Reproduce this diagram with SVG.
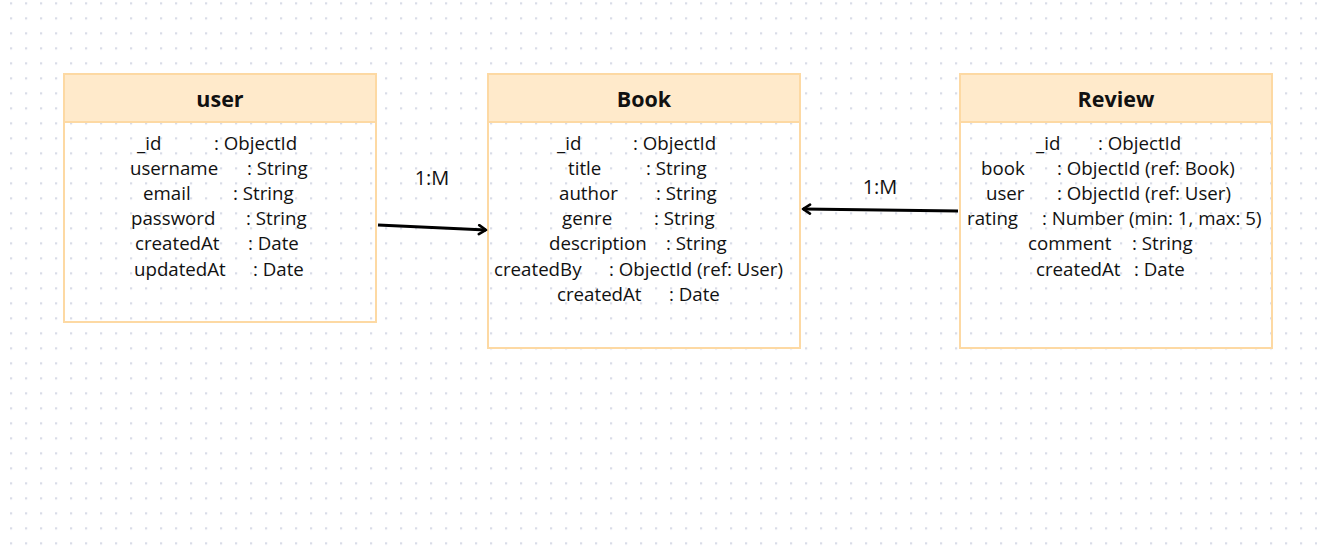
<svg xmlns="http://www.w3.org/2000/svg" width="1317" height="552" viewBox="0 0 1317 552">
  <defs>
    <pattern id="dots" x="10" y="2.3" width="15" height="15" patternUnits="userSpaceOnUse">
      <rect x="0" y="0" width="2.2" height="2.2" fill="#d9dce7"/>
    </pattern>
    <marker id="arrow" viewBox="0 0 12 12" refX="10" refY="6" markerWidth="12" markerHeight="12" markerUnits="userSpaceOnUse" orient="auto">
      <path d="M3,1.5 L10,6 L3,10.5" fill="none" stroke="#000" stroke-width="2.6" stroke-linecap="round" stroke-linejoin="round"/>
    </marker>
  </defs>
  <style>
    .box { fill: none; stroke: #fdd9a3; stroke-width: 2; }
    .head { fill: #ffeacb; stroke: #fdd9a3; stroke-width: 2; }
    .title { font-family: "Open Sans", "Noto Sans", sans-serif; font-weight: bold; font-size: 21.5px; fill: #111; text-anchor: middle; }
    .f { font-family: "Open Sans", "Noto Sans", sans-serif; font-size: 18.7px; fill: #111; }
    .lbl { font-family: "Open Sans", "Noto Sans", sans-serif; font-size: 20px; fill: #111; text-anchor: middle; }
    .conn { stroke: #000; stroke-width: 3; fill: none; }
  </style>
  <rect x="0" y="0" width="1317" height="552" fill="#ffffff"/>
  <rect x="0" y="0" width="1317" height="552" fill="url(#dots)"/>

  <g id="user">
    <rect class="head" x="64" y="74" width="312" height="48"/>
    <rect class="box" x="64" y="74" width="312" height="248"/>
    <text class="title" x="220" y="107">user</text>
    <text class="f" x="137" y="150">_id</text><text class="f" x="214" y="150">: ObjectId</text>
    <text class="f" x="130" y="175">username</text><text class="f" x="247" y="175">: String</text>
    <text class="f" x="143" y="200">email</text><text class="f" x="233" y="200">: String</text>
    <text class="f" x="131" y="225">password</text><text class="f" x="246" y="225">: String</text>
    <text class="f" x="135" y="250">createdAt</text><text class="f" x="248" y="250">: Date</text>
    <text class="f" x="134" y="276">updatedAt</text><text class="f" x="253" y="276">: Date</text>
  </g>

  <g id="book">
    <rect class="head" x="488" y="74" width="312" height="48"/>
    <rect class="box" x="488" y="74" width="312" height="274"/>
    <text class="title" x="644" y="107">Book</text>
    <text class="f" x="557" y="150">_id</text><text class="f" x="633" y="150">: ObjectId</text>
    <text class="f" x="568" y="175">title</text><text class="f" x="646" y="175">: String</text>
    <text class="f" x="559" y="200">author</text><text class="f" x="656" y="200">: String</text>
    <text class="f" x="562" y="225">genre</text><text class="f" x="654" y="225">: String</text>
    <text class="f" x="549" y="250">description</text><text class="f" x="666" y="250">: String</text>
    <text class="f" x="494" y="276">createdBy</text><text class="f" x="609" y="276">: ObjectId (ref: User)</text>
    <text class="f" x="557" y="301">createdAt</text><text class="f" x="669" y="301">: Date</text>
  </g>

  <g id="review">
    <rect class="head" x="960" y="74" width="312" height="48"/>
    <rect class="box" x="960" y="74" width="312" height="274"/>
    <text class="title" x="1116" y="107">Review</text>
    <text class="f" x="1036" y="150">_id</text><text class="f" x="1098" y="150">: ObjectId</text>
    <text class="f" x="981" y="175">book</text><text class="f" x="1057" y="175">: ObjectId (ref: Book)</text>
    <text class="f" x="986" y="200">user</text><text class="f" x="1057" y="200">: ObjectId (ref: User)</text>
    <text class="f" x="967" y="225">rating</text><text class="f" x="1042" y="225">: Number (min: 1, max: 5)</text>
    <text class="f" x="1028" y="250">comment</text><text class="f" x="1132" y="250">: String</text>
    <text class="f" x="1036" y="276">createdAt</text><text class="f" x="1134" y="276">: Date</text>
  </g>

  <g id="connectors">
    <line class="conn" x1="378" y1="225" x2="486" y2="230" marker-end="url(#arrow)"/>
    <text class="lbl" x="432" y="185">1:M</text>
    <line class="conn" x1="958" y1="211" x2="803" y2="209" marker-end="url(#arrow)"/>
    <text class="lbl" x="880" y="194">1:M</text>
  </g>
</svg>
